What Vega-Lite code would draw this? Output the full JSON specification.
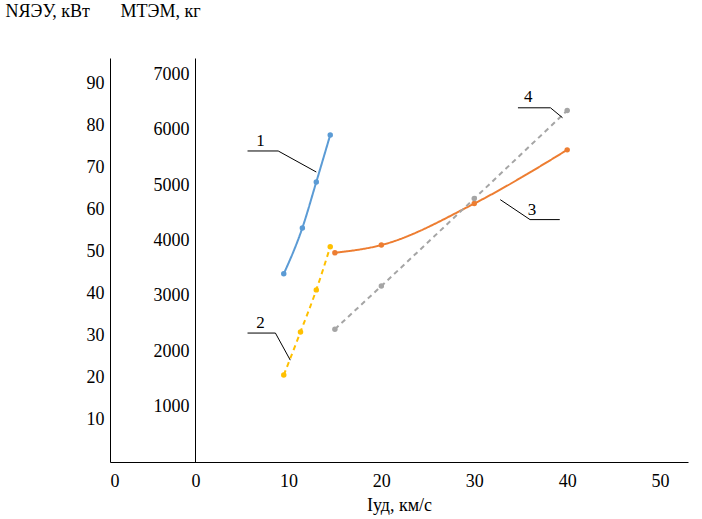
{
"$schema":"https://vega.github.io/schema/vega-lite/v6.json",
"width":578,"height":404,
"autosize":{"type":"none"},
"padding":{"left":110,"top":58,"right":14,"bottom":57},
"config":{"view":{"stroke":null},"font":"Liberation Serif","axis":{"grid":false,"labelFont":"Liberation Serif","labelFontSize":18,"labelColor":"#000","domainColor":"#000","tickColor":"#000","titleFont":"Liberation Serif","titleFontSize":18,"titleFontWeight":"normal","titleColor":"#000"}},
"datasets":{
"s":[
{"x":9.5,"y":3400,"k":"1"},{"x":11.5,"y":4230,"k":"1"},{"x":13,"y":5060,"k":"1"},{"x":14.5,"y":5910,"k":"1"},
{"x":9.5,"y":1570,"k":"2"},{"x":11.3,"y":2350,"k":"2"},{"x":13,"y":3110,"k":"2"},{"x":14.5,"y":3890,"k":"2"},
{"x":15,"y":3780,"k":"3"},{"x":20,"y":3920,"k":"3"},{"x":30,"y":4670,"k":"3"},{"x":40,"y":5640,"k":"3"},
{"x":15,"y":2400,"k":"4"},{"x":20,"y":3180,"k":"4"},{"x":30,"y":4760,"k":"4"},{"x":40,"y":6350,"k":"4"}],
"lead":[
{"x":5.6,"y":5620,"k":"1","o":1},{"x":8.9,"y":5620,"k":"1","o":2},{"x":13.0,"y":5240,"k":"1","o":3},
{"x":5.6,"y":2330,"k":"2","o":1},{"x":8.6,"y":2330,"k":"2","o":2},{"x":10.2,"y":1840,"k":"2","o":3},
{"x":39.2,"y":4380,"k":"3","o":1},{"x":36.0,"y":4380,"k":"3","o":2},{"x":32.8,"y":4740,"k":"3","o":3},
{"x":34.7,"y":6400,"k":"4","o":1},{"x":38.2,"y":6400,"k":"4","o":2},{"x":39.5,"y":6220,"k":"4","o":3}],
"lab":[{"x":7.0,"y":5800,"t":"1"},{"x":7.0,"y":2510,"t":"2"},{"x":36.2,"y":4560,"t":"3"},{"x":35.8,"y":6600,"t":"4"}]
},
"layer":[
{"data":{"values":[{"n":0}]},"mark":{"type":"point","opacity":0},
 "encoding":{"x":{"field":"n","type":"quantitative","scale":{"domain":[-9.2,53],"nice":false}},
  "y":{"field":"n","type":"quantitative","scale":{"domain":[0,96],"nice":false},
   "axis":{"orient":"left","values":[10,20,30,40,50,60,70,80,90],"tickSize":0,"labelPadding":6,"title":"NЯЭУ, кВт","titleAngle":0,"titleX":-105,"titleY":-38,"titleAlign":"left"}}}},
{"layer":[
 {"data":{"name":"s"},
  "encoding":{"x":{"field":"x","type":"quantitative","scale":{"domain":[-9.2,53],"nice":false},
    "axis":{"values":[-9.2,0,10,20,30,40,50],"labelExpr":"datum.value<0?'0':datum.label","tickSize":0,"labelPadding":10,"title":"Iуд, км/с","titleY":34}},
   "y":{"field":"y","type":"quantitative","scale":{"domain":[0,7300],"nice":false},
    "axis":{"orient":"left","offset":-85,"values":[1000,2000,3000,4000,5000,6000,7000],"format":"d","tickSize":0,"labelPadding":6,"title":"MТЭМ, кг","titleAngle":0,"titleX":-75,"titleY":-38,"titleAlign":"left"}},
   "color":{"field":"k","type":"nominal","legend":null,"scale":{"domain":["1","2","3","4"],"range":["#5b9bd5","#ffc000","#ed7d31","#a5a5a5"]}},
   "strokeDash":{"field":"k","type":"nominal","legend":null,"scale":{"domain":["1","2","3","4"],"range":[[1,0],[5,4],[1,0],[5,4]]}}},
  "layer":[
   {"mark":{"type":"line","interpolate":"monotone","strokeWidth":2}},
   {"mark":{"type":"circle","size":30,"opacity":1}}]},
 {"data":{"name":"lead"},"mark":{"type":"line","color":"#000","strokeWidth":1},
  "encoding":{"x":{"field":"x","type":"quantitative"},"y":{"field":"y","type":"quantitative"},"detail":{"field":"k"},"order":{"field":"o"}}},
 {"data":{"name":"lab"},"mark":{"type":"text","fontSize":17,"font":"Liberation Serif"},
  "encoding":{"x":{"field":"x","type":"quantitative"},"y":{"field":"y","type":"quantitative"},"text":{"field":"t"}}}
]}
],
"resolve":{"scale":{"y":"independent"},"axis":{"y":"independent"}}
}
